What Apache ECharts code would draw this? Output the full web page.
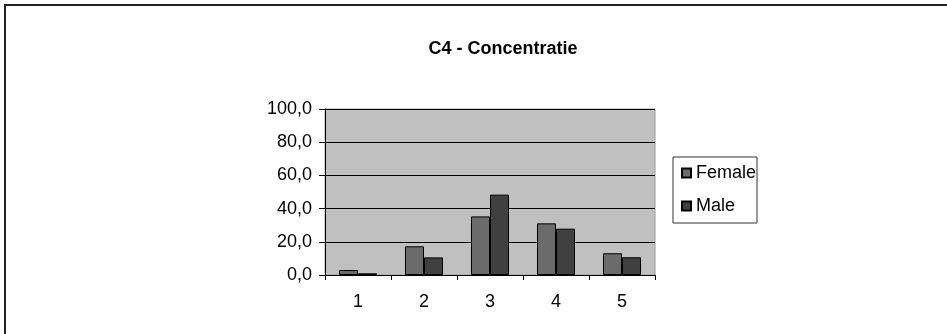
<!DOCTYPE html>
<html>
<head>
<meta charset="utf-8">
<script src="https://cdn.jsdelivr.net/npm/echarts@6/dist/echarts.min.js"></script>
<style>
  html, body { margin: 0; padding: 0; background: #fff; }
  #chart { width: 947px; height: 334px; }
</style>
</head>
<body>
<div id="chart"></div>
<script>
// Response scale categories and the share (%) per gender
const categories = ['1', '2', '3', '4', '5'];
const female = [3.0, 17.3, 35.3, 31.1, 13.1];
const male = [1.0, 10.6, 48.4, 27.9, 10.7];
const yTicks = { min: 0, max: 100, interval: 20 };

const FONT = 'Liberation Sans, Arial, sans-serif';
const chart = echarts.init(document.getElementById('chart'), null, { renderer: 'canvas' });

chart.setOption({
  backgroundColor: '#ffffff',
  animation: false,
  title: {
    text: 'C4 - Concentratie',
    left: 503,
    top: 40,
    padding: 0,
    textAlign: 'center',
    textStyle: { fontFamily: FONT, fontSize: 18, fontWeight: 'bold', color: '#000' }
  },
  graphic: [{
    type: 'rect',
    shape: { x: 5, y: 5, width: 1000, height: 400 },
    style: { fill: 'none', stroke: '#222', lineWidth: 2 },
    silent: true
  }],
  legend: {
    orient: 'vertical',
    left: 673,
    top: 157,
    padding: [7, 1, 8, 8],
    itemGap: 15,
    itemWidth: 9,
    itemHeight: 9,
    borderColor: '#333',
    borderWidth: 1,
    backgroundColor: '#fff',
    icon: 'rect',
    textStyle: { fontFamily: FONT, fontSize: 18, color: '#000', padding: [0, 0, 0, 0] },
    data: ['Female', 'Male']
  },
  grid: {
    left: 325,
    right: 292,
    top: 109,
    bottom: 59,
    show: true,
    backgroundColor: '#c0c0c0',
    borderColor: '#9a9a9a',
    borderWidth: 1
  },
  xAxis: {
    type: 'category',
    data: categories,
    axisLine: { lineStyle: { color: '#000', width: 1 } },
    axisTick: { show: true, length: 5, lineStyle: { color: '#000' } },
    axisLabel: { fontFamily: FONT, fontSize: 18, color: '#000', margin: 18 }
  },
  yAxis: {
    type: 'value',
    min: yTicks.min,
    max: yTicks.max,
    interval: yTicks.interval,
    axisLine: { show: true, lineStyle: { color: '#000', width: 1 } },
    axisTick: { show: true, length: 6, lineStyle: { color: '#000' } },
    axisLabel: {
      fontFamily: FONT, fontSize: 18, color: '#000', margin: 13,
      formatter: v => v.toFixed(1).replace('.', ',')
    },
    splitLine: { show: true, lineStyle: { color: '#000', width: 1 } }
  },
  series: [
    {
      name: 'Female',
      type: 'bar',
      data: female,
      barWidth: 19,
      barGap: '0%',
      itemStyle: { color: '#6b6b6b', borderColor: '#000', borderWidth: 1 }
    },
    {
      name: 'Male',
      type: 'bar',
      data: male,
      barWidth: 19,
      barGap: '0%',
      itemStyle: { color: '#404040', borderColor: '#000', borderWidth: 1 }
    }
  ]
});
</script>
</body>
</html>
